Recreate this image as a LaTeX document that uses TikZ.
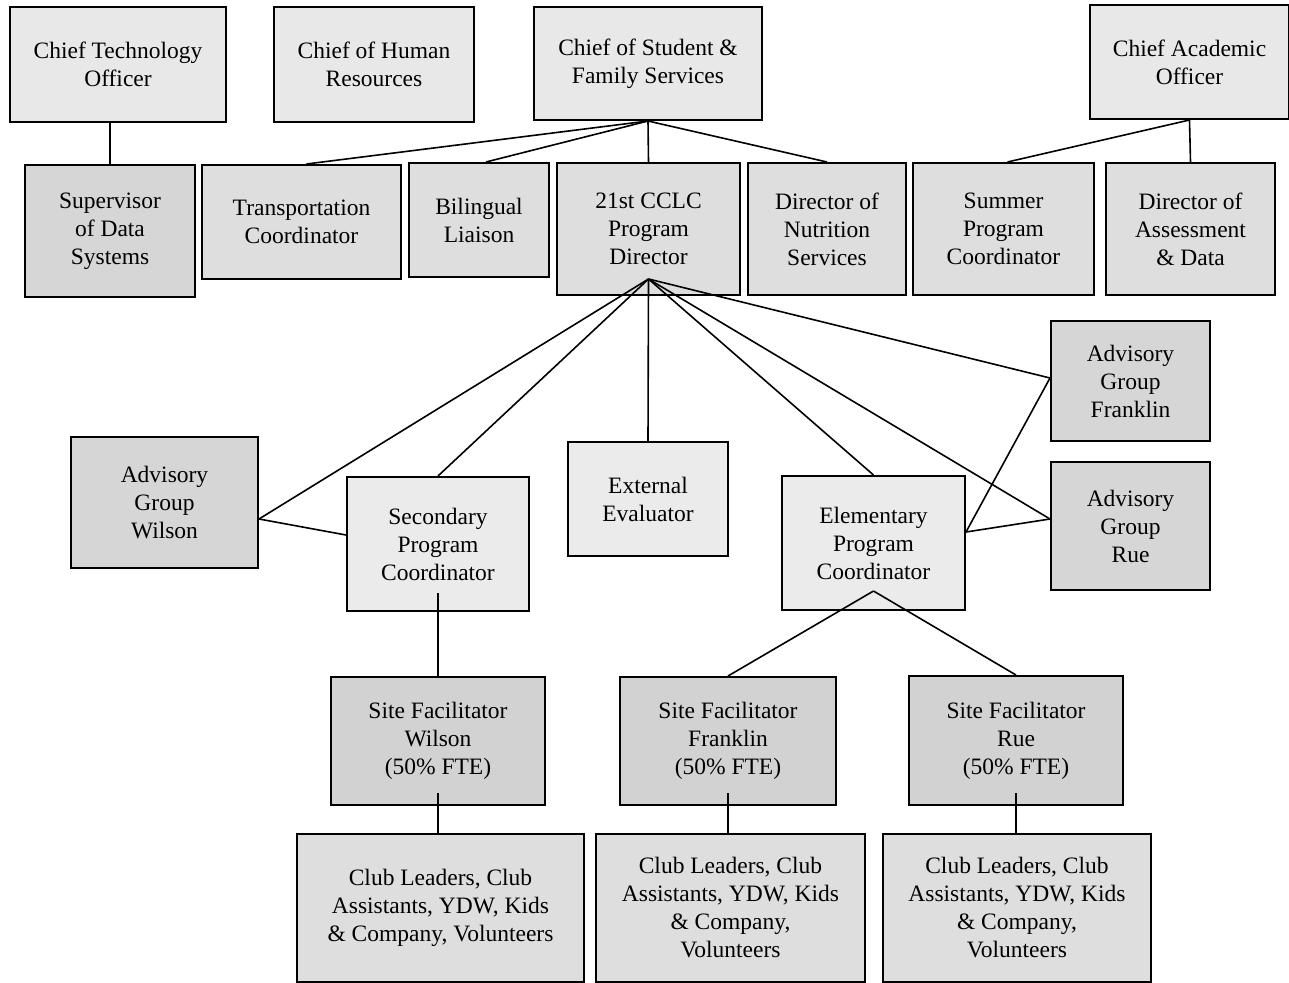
\documentclass[tikz,border=0pt]{standalone}
\usepackage{fontspec}
\setmainfont{Liberation Serif}
\definecolor{chieffill}{HTML}{E8E8E8}
\definecolor{stafffill}{HTML}{DEDEDE}
\definecolor{darkfill}{HTML}{D6D6D6}
\definecolor{lightfill}{HTML}{EBEBEB}
\definecolor{sitefill}{HTML}{D2D2D2}

\begin{document}
\begin{tikzpicture}
  [x=1bp,y=-1bp,
   box/.style={draw,line width=2bp,inner sep=0pt,align=center,
     font=\fontsize{23.5bp}{28bp}\selectfont},
   chief/.style={box,fill=chieffill},
   staff/.style={box,fill=stafffill},
   adv/.style={box,fill=darkfill},
   coord/.style={box,fill=lightfill},
   site/.style={box,fill=sitefill},
   every path/.style={line width=1.6bp}]
  \useasboundingbox (0,0) rectangle (1289,983);

  % top row
  \node[chief,minimum width=216bp,minimum height=115bp] (cto) at (118,64.5) {Chief Technology\\Officer};
  \node[chief,minimum width=200bp,minimum height=115bp] (chr) at (374,64.5) {Chief of Human\\Resources};
  \node[chief,minimum width=228bp,minimum height=113bp] (csfs) at (648,63.5) {Chief of Student \&\\Family Services};
  \node[chief,minimum width=199bp,minimum height=114bp] (cao) at (1189.5,62) {Chief Academic\\Officer};

  % second row
  \node[adv,minimum width=170bp,minimum height=132bp] (sds) at (110,231) {Supervisor\\of Data\\Systems};
  \node[staff,minimum width=199bp,minimum height=114bp] (trans) at (301.5,222) {Transportation\\Coordinator};
  \node[staff,minimum width=140bp,minimum height=114bp] (bil) at (479,220) {Bilingual\\Liaison};
  \node[staff,minimum width=183bp,minimum height=132bp] (cclc) at (648.5,229) {21st CCLC\\Program\\Director};
  \node[staff,minimum width=158bp,minimum height=132bp] (nutr) at (827,229) {Director of\\Nutrition\\Services};
  \node[staff,minimum width=181bp,minimum height=132bp] (summ) at (1003.5,229) {Summer\\Program\\Coordinator};
  \node[staff,minimum width=169bp,minimum height=132bp] (assess) at (1190.5,229) {Director of\\Assessment\\\& Data};

  % program level
  \node[adv,minimum width=187bp,minimum height=131bp] (advwil) at (164.5,502.5) {Advisory\\Group\\Wilson};
  \node[coord,minimum width=182bp,minimum height=134bp] (sec) at (438,544) {Secondary\\Program\\Coordinator};
  \node[coord,minimum width=160bp,minimum height=114bp] (ext) at (648,499) {External\\Evaluator};
  \node[coord,minimum width=183bp,minimum height=134bp] (elem) at (873.5,543) {Elementary\\Program\\Coordinator};
  \node[adv,minimum width=159bp,minimum height=120bp] (advfra) at (1130.5,381) {Advisory\\Group\\Franklin};
  \node[adv,minimum width=159bp,minimum height=128bp] (advrue) at (1130.5,526) {Advisory\\Group\\Rue};

  % sites
  \node[site,minimum width=214bp,minimum height=128bp] (sitewil) at (438,741) {Site Facilitator\\Wilson\\(50\% FTE)};
  \node[site,minimum width=216bp,minimum height=128bp] (sitefra) at (728,741) {Site Facilitator\\Franklin\\(50\% FTE)};
  \node[site,minimum width=214bp,minimum height=129bp] (siterue) at (1016,740.5) {Site Facilitator\\Rue\\(50\% FTE)};

  % club staff
  \node[staff,minimum width=287bp,minimum height=148bp] (clubwil) at (440.5,908) {Club Leaders, Club\\Assistants, YDW, Kids\\\& Company, Volunteers};
  \node[staff,minimum width=269bp,minimum height=148bp] (clubfra) at (730.5,908) {Club Leaders, Club\\Assistants, YDW, Kids\\\& Company,\\Volunteers};
  \node[staff,minimum width=268bp,minimum height=148bp] (clubrue) at (1017,908) {Club Leaders, Club\\Assistants, YDW, Kids\\\& Company,\\Volunteers};

  \coordinate (cclchub) at ([yshift=17bp]cclc.south);
  \coordinate (elemhub) at ([yshift=20bp]elem.south);

  \draw (sds.north |- cto.south) -- (sds.north);
  \draw (csfs.south) -- ([xshift=5bp]trans.north);
  \draw (csfs.south) -- ([xshift=7bp]bil.north);
  \draw (csfs.south) -- (cclc.north);
  \draw (csfs.south) -- (nutr.north);
  \draw (cao.south) -- ([xshift=4bp]summ.north);
  \draw (cao.south) -- (assess.north);

  \draw (cclchub) -- ([yshift=-16.5bp]advwil.east);
  \draw (cclchub) -- (sec.north);
  \draw (cclchub) -- (ext.north);
  \draw (cclchub) -- (elem.north);
  \draw (cclchub) -- ([yshift=3bp]advfra.west);
  \draw (cclchub) -- ([yshift=7bp]advrue.west);

  \draw ([yshift=-16.5bp]advwil.east) -- ([yshift=9bp]sec.west);
  \draw ([yshift=11bp]elem.east) -- ([yshift=3bp]advfra.west);
  \draw ([yshift=11bp]elem.east) -- ([yshift=7bp]advrue.west);

  \draw ([yshift=19bp]sec.south) -- (sitewil.north);
  \draw (elemhub) -- (sitefra.north);
  \draw (elemhub) -- (siterue.north);

  \draw ([yshift=13bp]sitewil.south) -- (sitewil.south |- clubwil.north);
  \draw ([yshift=13bp]sitefra.south) -- (sitefra.south |- clubfra.north);
  \draw ([yshift=13bp]siterue.south) -- (siterue.south |- clubrue.north);
\end{tikzpicture}
\end{document}
